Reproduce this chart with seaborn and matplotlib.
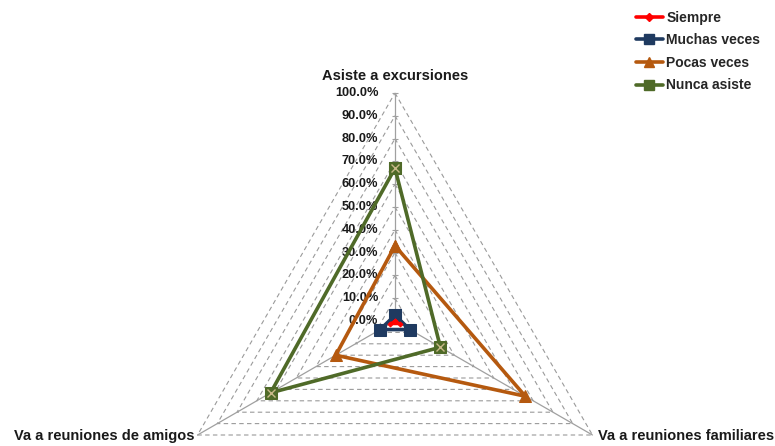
import numpy as np
import pandas as pd
import matplotlib
matplotlib.use("Agg")
import matplotlib.pyplot as plt
import matplotlib.transforms as mtransforms
from matplotlib.lines import Line2D
import seaborn as sns

# Activity categories (clockwise from the top) and share of respondents per answer
categories = ["Asiste a excursiones", "Va a reuniones familiares", "Va a reuniones de amigos"]
siempre = [0.0, 2.5, 2.5]
muchas_veces = [2.5, 7.5, 7.5]
pocas_veces = [33.0, 66.0, 30.0]
nunca_asiste = [67.0, 23.0, 63.0]
series_names = ["Siempre", "Muchas veces", "Pocas veces", "Nunca asiste"]
tick_values = [0, 10, 20, 30, 40, 50, 60, 70, 80, 90, 100]
tick_labels = [f"{v:.1f}%" for v in tick_values]

sns.set_theme(style="white")
plt.rcParams["font.family"] = ["Liberation Sans", "DejaVu Sans"]

fig = plt.figure(figsize=(7.75, 4.46), dpi=100)
W, H = 775, 446
cx, cy, R = 395, 321, 228
ax = fig.add_axes([(cx - R) / W, (H - cy - R) / H, 2 * R / W, 2 * R / H], projection="polar")
ax.set_theta_offset(np.pi / 2)
ax.set_theta_direction(-1)
ax.set_ylim(0, 100)
ax.grid(False)
ax.spines["polar"].set_visible(False)
ax.set_xticks([])
ax.set_yticks([])
ax.patch.set_alpha(0)

n = len(categories)
theta = np.linspace(0, 2 * np.pi, n, endpoint=False)
theta_closed = np.append(theta, 2 * np.pi)

# Triangular dashed grid
for v in tick_values[1:]:
    ax.plot(theta_closed, [v] * (n + 1), color="#9A9A9A", lw=0.8,
            ls=(0, (4, 3)), zorder=1, clip_on=False)
# Spokes
for t in theta:
    ax.plot([t, t], [0, 100], color="#A0A0A0", lw=0.9, zorder=1, clip_on=False)
# Small ticks on the top axis
ax.plot([0] * len(tick_values), tick_values, ls="none", marker="_", ms=5,
        mew=0.8, color="#A0A0A0", zorder=1, clip_on=False)

# Radial tick labels left of the top spoke
lab_tr = mtransforms.offset_copy(ax.transData, fig=fig, x=-12, y=0, units="points")
for v, lab in zip(tick_values, tick_labels):
    ax.text(0, v, lab, transform=lab_tr, ha="right", va="center",
            fontsize=9.2, fontweight="bold", color="#1a1a1a")

colors = {"Siempre": "#FF0000", "Muchas veces": "#1F3A60",
          "Pocas veces": "#B5590F", "Nunca asiste": "#4F6A28"}
markers = {"Siempre": "D", "Muchas veces": "s", "Pocas veces": "^", "Nunca asiste": "s"}
msizes = {"Siempre": 2.5, "Muchas veces": 8, "Pocas veces": 8, "Nunca asiste": 8}
values = {"Siempre": siempre, "Muchas veces": muchas_veces,
          "Pocas veces": pocas_veces, "Nunca asiste": nunca_asiste}

rows = []
for name in series_names:
    vals = values[name] + [values[name][0]]
    for t, v in zip(theta_closed, vals):
        rows.append({"serie": name, "theta": t, "valor": v})
df = pd.DataFrame(rows)

for z, name in zip([6, 5, 3, 4], series_names):
    sub = df[df["serie"] == name]
    sns.lineplot(data=sub, x="theta", y="valor", sort=False, estimator=None,
                 ax=ax, color=colors[name], lw=2.6 if name != "Siempre" else 2.0,
                 marker=markers[name], markersize=msizes[name],
                 markeredgecolor=colors[name], zorder=z, clip_on=False, legend=False)
# Cross inside the "Nunca asiste" markers
sub = df[(df["serie"] == "Nunca asiste")].iloc[:-1]
ax.plot(sub["theta"], sub["valor"], ls="none", marker="x", ms=6, mew=1.0,
        color="#C9B98A", zorder=4.5, clip_on=False)
ax.set_xlabel("")
ax.set_ylabel("")

# Category labels
cat_font = dict(fontsize=10.5, fontweight="bold", color="#1a1a1a")
ax.text(0, 100, categories[0], transform=mtransforms.offset_copy(ax.transData, fig=fig, x=0, y=7, units="points"),
        ha="center", va="bottom", **cat_font)
ax.text(theta[1], 100, categories[1], transform=mtransforms.offset_copy(ax.transData, fig=fig, x=4, y=-1, units="points"),
        ha="left", va="center", **cat_font)
ax.text(theta[2], 100, categories[2], transform=mtransforms.offset_copy(ax.transData, fig=fig, x=-2, y=-1, units="points"),
        ha="right", va="center", **cat_font)

# Legend
handles = []
for name in series_names:
    h = Line2D([], [], color=colors[name], lw=2.6, marker=markers[name],
               markersize=msizes[name] - 1 if name != "Siempre" else 4,
               markeredgecolor=colors[name])
    handles.append(h)
leg = fig.legend(handles, series_names, loc="upper left", bbox_to_anchor=(630 / W, 1 - 5 / H),
                 frameon=False, handlelength=2.0, handletextpad=0.2, labelspacing=0.62,
                 prop={"size": 10, "weight": "bold"}, borderaxespad=0)

fig.savefig("out.png", dpi=100)
